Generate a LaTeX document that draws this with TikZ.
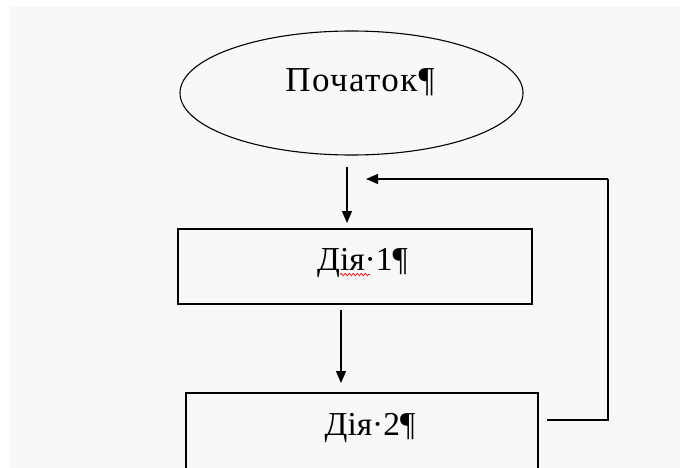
\documentclass[tikz,border=0pt]{standalone}
\usepackage{fontspec}
\setmainfont{Liberation Serif}
\usetikzlibrary{shapes.geometric,arrows.meta,decorations.pathmorphing}
\definecolor{bg}{HTML}{F8F8F8}
\begin{document}
\begin{tikzpicture}[x=1pt,y=-1pt,
  shape line/.style={draw=black,line width=1.1pt,inner sep=0pt},
  txt/.style={anchor=base,inner sep=0pt,font=\fontsize{33.5}{36}\selectfont},
  arr/.style={line width=1.3pt,-{Triangle[length=12pt,width=10pt]}},
  plain line/.style={line width=1.3pt}]
\useasboundingbox (0,0) rectangle (680,468);
\clip (0,0) rectangle (680,468);
\fill[bg] (9,7) rectangle (680,468);
% start ellipse
\node[shape line,ellipse,minimum width=343pt,minimum height=124pt] (start) at (351.5,93) {};
\node[txt,font=\fontsize{35}{38}\selectfont] (starttxt) at (360,92) {\addfontfeatures{LetterSpace=4}Початок¶};
% boxes
\node[shape line,rectangle,minimum width=354pt,minimum height=75pt] (box1) at (355,266.5) {};
\node[txt] (box1txt) at (362.5,270) {Дія·1¶};
\node[shape line,rectangle,minimum width=352pt,minimum height=120pt] (box2) at (362,453) {};
\node[txt] (box2txt) at (370,435) {Дія·2¶};
% spell-check squiggle
\coordinate (sq1) at (340,274.5);
\coordinate (sq2) at (370,274.5);
\draw[red,line width=0.7pt,decorate,decoration={snake,amplitude=1.1pt,segment length=4pt}] (sq1) -- (sq2);
% arrows
\coordinate (a1s) at (347,167);
\coordinate (a1e) at (347,223);
\draw[arr] (a1s) -- (a1e);
\coordinate (a2s) at (341,310);
\coordinate (a2e) at (341,383);
\draw[arr] (a2s) -- (a2e);
% feedback loop
\coordinate (fbs) at (547,420);
\coordinate (fbc1) at (608,420);
\coordinate (fbc2) at (608,179);
\coordinate (fbe) at (366,179);
\draw[plain line] (fbs) -- (fbc1) -- (fbc2);
\draw[arr] (fbc2) -- (fbe);
\end{tikzpicture}
\end{document}
